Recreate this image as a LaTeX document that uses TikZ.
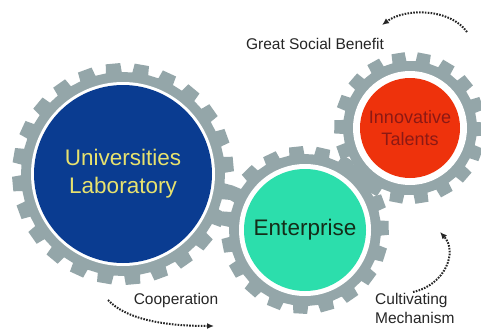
\documentclass[tikz,border=0pt]{standalone}
\usepackage{fontspec}
\setmainfont{Liberation Sans}
\usetikzlibrary{arrows.meta}

\definecolor{gearGray}{RGB}{148,166,169}
\definecolor{univBlue}{RGB}{10,60,145}
\definecolor{univText}{RGB}{232,226,110}
\definecolor{entGreen}{RGB}{44,222,172}
\definecolor{entText}{RGB}{20,45,25}
\definecolor{talentRed}{RGB}{238,50,12}
\definecolor{talentText}{RGB}{140,25,20}

\begin{document}
\begin{tikzpicture}[
            x=1pt, y=-1pt,
            disc/.style={circle, draw=none, inner sep=0pt, align=center},
            tag/.style={font=\fontsize{15.5}{19}\selectfont, text=black!85, inner sep=0pt},
            arrow/.style={-{Latex[length=7pt,width=6pt]}, line width=2pt, dash pattern=on 1.6pt off 1.3pt, black!85}
            ]
            \useasboundingbox[fill=white] (0,0) rectangle (481,329);
            
            % Gear rims: centre x / centre y / teeth / tip / root / inner radius / first tooth
            \foreach \cx/\cy/\n/\rt/\rb/\ri/\ph in {123/174/24/111/102/92/264.8, 305/230/19/84/76/66/263.8, 410/128/18/76/67/57/260.9} {
                \begin{scope}[shift={(\cx,\cy)}]
                    \pgfmathsetmacro{\pitch}{360/\n}
                    \fill[gearGray] ({\ph-0.3*\pitch}:\rb)
                        \foreach \k in {1,...,\n} {
                            -- ({\ph+(\k-1)*\pitch-0.3*\pitch}:\rb) -- ({\ph+(\k-1)*\pitch-0.25*\pitch}:\rt)
                            -- ({\ph+(\k-1)*\pitch+0.25*\pitch}:\rt) -- ({\ph+(\k-1)*\pitch+0.3*\pitch}:\rb)
                        } -- cycle;
                    \fill[white] (0,0) circle (\ri pt);
                \end{scope}
            }
            
            % Gear faces
            \node[disc, fill=univBlue, minimum size=178pt, text=univText, font=\fontsize{22.5}{28}\selectfont] (univ) at (123,174) {Universities\\Laboratory};
            \node[disc, fill=entGreen, minimum size=122pt, text=entText, font=\fontsize{22.5}{28}\selectfont] (enterprise) at (305,230) {Enterprise};
            \node[disc, fill=talentRed, minimum size=100pt, text=talentText, font=\fontsize{18}{22}\selectfont] (talents) at (410,128) {Innovative\\Talents};
            
            % Labels
            \node[tag] (benefit) at (315,44) {Great Social Benefit};
            \node[tag] (cooperation) at (176,300) {Cooperation};
            \node[tag, anchor=west, align=left] (cultivating) at (375,308) {Cultivating\\Mechanism};
            
            % Arrow ends
            \coordinate (benefitTail) at (467,32);
            \coordinate (benefitHead) at (382,25);
            \coordinate (coopTail) at (108,300);
            \coordinate (coopHead) at (214,326);
            \coordinate (cultTail) at (413,292);
            \coordinate (cultHead) at (440,232);
            
            % Arrows
            \draw[arrow] (benefitTail) .. controls (450,8) and (405,8) .. (benefitHead);
            \draw[arrow] (coopTail) .. controls (125,318) and (160,326) .. (coopHead);
            \draw[arrow] (cultTail) .. controls (445,285) and (458,252) .. (cultHead);
            
\end{tikzpicture}
\end{document}
